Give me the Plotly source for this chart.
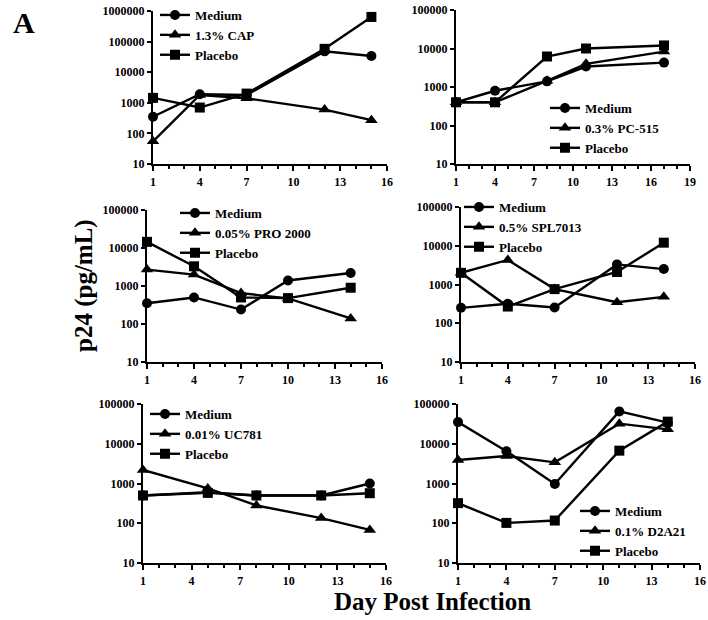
import plotly.graph_objects as go

# ---------------- data ----------------
days1 = [1, 4, 7, 12, 15]
cap_medium = [350, 1900, 1800, 48000, 34000]
cap_drug = [55, 1800, 1400, 600, 270]
cap_placebo = [1450, 700, 2000, 58000, 640000]

days2 = [1, 4, 8, 11, 17]
pc_medium = [400, 800, 1400, 3400, 4300]
pc_drug = [400, 400, 1450, 4000, 8300]
pc_placebo = [400, 400, 6200, 10000, 12000]

days3 = [1, 4, 7, 10, 14]
pro_medium = [350, 500, 240, 1400, 2200]
pro_drug = [2700, 2000, 650, 470, 140]
pro_placebo = [14500, 3300, 500, 480, 900]

days4 = [1, 4, 7, 11, 14]
spl_medium = [250, 320, 255, 3300, 2500]
spl_drug = [2000, 4300, 760, 350, 480]
spl_placebo = [2000, 270, 760, 2100, 12000]

days5 = [1, 5, 8, 12, 15]
uc_medium = [500, 600, 500, 500, 1000]
uc_drug = [2200, 750, 280, 135, 68]
uc_placebo = [500, 580, 500, 500, 570]

days6 = [1, 4, 7, 11, 14]
d2_medium = [35000, 6500, 970, 65000, 34000]
d2_drug = [3900, 4900, 3400, 32000, 23000]
d2_placebo = [320, 102, 117, 6700, 36000]

drug_names = ["1.3% CAP", "0.3% PC-515", "0.05% PRO 2000",
              "0.5% SPL7013", "0.01% UC781", "0.1% D2A21"]

y_ticks_6 = [10, 100, 1000, 10000, 100000, 1000000]
y_ticks_5 = [10, 100, 1000, 10000, 100000]
x_ticks_16 = [1, 4, 7, 10, 13, 16]
x_ticks_19 = [1, 4, 7, 10, 13, 16, 19]

panels = [
    (days1, [cap_medium, cap_drug, cap_placebo], y_ticks_6, x_ticks_16),
    (days2, [pc_medium, pc_drug, pc_placebo], y_ticks_5, x_ticks_19),
    (days3, [pro_medium, pro_drug, pro_placebo], y_ticks_5, x_ticks_16),
    (days4, [spl_medium, spl_drug, spl_placebo], y_ticks_5, x_ticks_16),
    (days5, [uc_medium, uc_drug, uc_placebo], y_ticks_5, x_ticks_16),
    (days6, [d2_medium, d2_drug, d2_placebo], y_ticks_5, x_ticks_16),
]

# ---------------- layout geometry (pixels in 708x620) ----------------
W, H = 708, 620
boxes = [  # x0, x1, ytop, ybottom
    (153, 387, 11, 164),
    (456, 690, 10, 164),
    (147, 382, 210, 362),
    (461, 695, 207, 362),
    (143, 386, 404, 563),
    (458, 700, 404, 563),
]
legend_pos = [  # left px, top px
    (155, 0),
    (545, 93),
    (175, 198),
    (459, 192),
    (145, 399),
    (575, 496),
]

SERIF = "Liberation Serif, Times New Roman, serif"
symbols = ["circle", "triangle-up", "square"]
msizes = [10, 11, 10]

fig = go.Figure()
layout = dict(
    template="none",
    width=W, height=H,
    margin=dict(l=0, r=0, t=0, b=0, pad=0, autoexpand=False),
    paper_bgcolor="white", plot_bgcolor="white",
    showlegend=True,
    font=dict(family=SERIF, color="black"),
)

for i, ((days, series, yt, xt), (x0, x1, yt0, yb0), (lx, ly)) in enumerate(
        zip(panels, boxes, legend_pos)):
    n = i + 1
    xa = "x" if n == 1 else f"x{n}"
    ya = "y" if n == 1 else f"y{n}"
    leg = "legend" if n == 1 else f"legend{n}"
    names = ["Medium", drug_names[i], "Placebo"]
    for vals, nm, sym, ms in zip(series, names, symbols, msizes):
        fig.add_trace(go.Scatter(
            x=days, y=vals, name=nm, mode="lines+markers",
            line=dict(color="black", width=2.4),
            marker=dict(symbol=sym, size=ms, color="black",
                        line=dict(width=0)),
            xaxis=xa, yaxis=ya, legend=leg, cliponaxis=False,
        ))
    xkey = "xaxis" if n == 1 else f"xaxis{n}"
    ykey = "yaxis" if n == 1 else f"yaxis{n}"
    layout[xkey] = dict(
        domain=[x0 / W, x1 / W], anchor=ya, automargin=False,
        range=[xt[0], xt[-1]], tickvals=xt,
        showline=True, linewidth=2.4, linecolor="black",
        ticks="outside", ticklen=5, tickwidth=2, tickcolor="black",
        minor=dict(ticks="outside", ticklen=3, tickwidth=2,
                   tickcolor="black", dtick=1, tick0=1, showgrid=False),
        showgrid=False, zeroline=False,
        tickfont=dict(family=SERIF, size=12, weight="bold", color="black"),
    )
    layout[ykey] = dict(
        domain=[1 - yb0 / H, 1 - yt0 / H], anchor=xa, automargin=False,
        type="log", range=[1, len(yt)],
        tickvals=yt, ticktext=[str(v) for v in yt],
        showline=True, linewidth=2.4, linecolor="black",
        ticks="outside", ticklen=4, tickwidth=2, tickcolor="black",
        showgrid=False, zeroline=False,
        tickfont=dict(family=SERIF, size=12, weight="bold", color="black"),
    )
    layout[leg] = dict(
        x=lx / W, y=1 - ly / H, xanchor="left", yanchor="top",
        bgcolor="rgba(0,0,0,0)", borderwidth=0,
        font=dict(family=SERIF, size=13, weight="bold", color="black"),
        itemwidth=30, tracegroupgap=0,
    )

layout["annotations"] = [
    dict(text="A", x=24 / W, y=1 - 22 / H, xref="paper", yref="paper",
         showarrow=False, xanchor="center", yanchor="middle",
         font=dict(family=SERIF, size=30, weight="bold", color="black")),
    dict(text="p24 (pg/mL)", x=84 / W, y=1 - 286 / H, xref="paper", yref="paper",
         showarrow=False, textangle=-90, xanchor="center", yanchor="middle",
         font=dict(family=SERIF, size=25, weight="bold", color="black")),
    dict(text="Day Post Infection", x=432 / W, y=1 - 601 / H, xref="paper",
         yref="paper", showarrow=False, xanchor="center", yanchor="middle",
         font=dict(family=SERIF, size=25, weight="bold", color="black")),
]

fig.update_layout(**layout)
fig.write_html("out.html",
               config={"displayModeBar": False},
               post_script="document.body.style.margin='0px';")
